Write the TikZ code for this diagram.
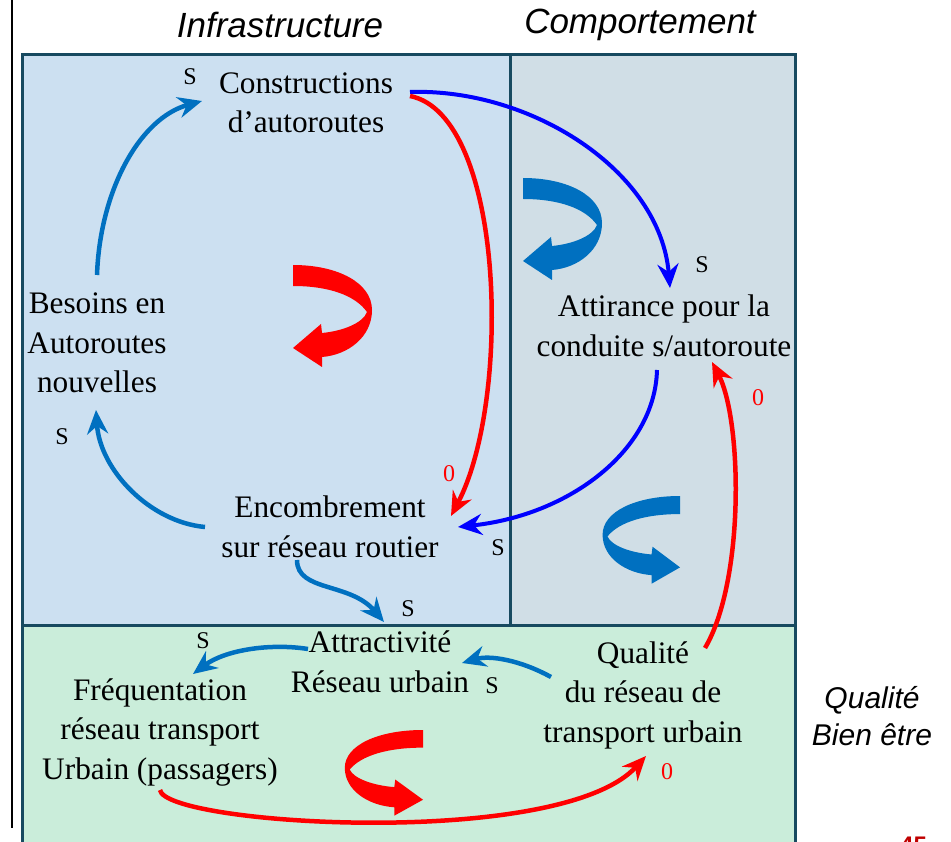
\documentclass[tikz,border=0pt]{standalone}
\usepackage{fontspec}
\setmainfont{Liberation Serif}
\newfontfamily\headfont{Liberation Sans}
\usetikzlibrary{arrows.meta,calc}

\definecolor{infrafill}{HTML}{CCE0F1}
\definecolor{behavfill}{HTML}{D0DEE6}
\definecolor{qualfill}{HTML}{CAEDDA}
\definecolor{framecol}{HTML}{174A60}
\definecolor{midblue}{HTML}{0070C0}
\definecolor{pureblue}{HTML}{0000FF}
\definecolor{loopred}{HTML}{FF0000}
\definecolor{pagered}{HTML}{C00000}

\tikzset{
  var/.style={align=center, inner sep=0pt, font=\fontsize{31.3}{39.5}\selectfont},
  head/.style={inner sep=0pt, font=\headfont\itshape\fontsize{35}{40}\selectfont},
  sidehead/.style={align=center, inner sep=0pt, font=\headfont\itshape\fontsize{30}{37}\selectfont},
  pol/.style={inner sep=0pt, font=\fontsize{24}{24}\selectfont},
  polneg/.style={pol, text=loopred},
  link/.style={line width=4.5pt, -{Stealth[length=24pt,width=21pt,inset=8pt]}},
  posblue/.style={link, midblue},
  strongblue/.style={link, pureblue, line width=4pt},
  negred/.style={link, loopred},
  boxline/.style={framecol, line width=3pt},
  % ribbon-shaped curved arrow showing the sense of a loop
  loopy/.pic={
    \fill (0,0) .. controls (45,0) and (79,18) .. (79,45)
          .. controls (79,72) and (55,90) .. (29,92)
          -- (29,102) -- (0,83) -- (28,59) -- (29,68)
          .. controls (50,66) and (70,58) .. (74,47)
          .. controls (62,30) and (35,21) .. (0,21) -- cycle;
  }
}

\begin{document}
\begin{tikzpicture}[x=1pt, y=-1pt]
\useasboundingbox (0,0) rectangle (951,842);

% zones
\fill[infrafill] (22,55) rectangle (510,625);
\fill[behavfill] (510,55) rectangle (795,625);
\fill[qualfill] (22,625) rectangle (795,860);
\draw[boxline] (22,860) -- (22,55) -- (795,55) -- (795,860);
\draw[boxline] (510,55) -- (510,625);
\draw[boxline] (22,625) -- (795,625);
\draw[line width=2.5pt] (12,0) -- (12,828);

% zone headings
\node[head] (tinfra) at (280,25) {Infrastructure};
\node[head] (tcomp) at (640,25) {Comportement};
\node[sidehead] (tqual) at (872,716) {Qualité\\Bien être};
\node[anchor=north west, inner sep=0pt, text=pagered,
      font=\headfont\bfseries\fontsize{24}{24}\selectfont] (pgnum) at (900,837) {45};

% loop direction symbols
\pic[loopred] at (293,265) {loopy};
\pic[midblue] at (523,178) {loopy};
\pic[midblue, xscale=-0.98, yscale=0.86] at (680,496) {loopy};
\pic[loopred, xscale=-0.99, yscale=0.84] at (423,730) {loopy};

% variables
\node[var] (cons) at (306,103) {Constructions\\d’autoroutes};
\node[var] (besoins) at (97,343) {Besoins en\\Autoroutes\\nouvelles};
\node[var] (attir) at (664,326) {Attirance pour la\\conduite s/autoroute};
\node[var] (encomb) at (330,527) {Encombrement\\sur réseau routier};
\node[var] (attract) at (380,662) {Attractivité\\Réseau urbain};
\node[var] (frequ) at (160,732) {Fréquentation\\réseau transport\\Urbain (passagers)};
\node[var] (qual) at (643,695) {Qualité\\du réseau de\\transport urbain};

% link polarities
\node[pol] (s1) at (190,77) {S};
\node[pol] (s2) at (702,265) {S};
\node[pol] (s3) at (62,437) {S};
\node[polneg] (z1) at (449,474) {0};
\node[pol] (s4) at (498,548) {S};
\node[pol] (s5) at (408,609) {S};
\node[pol] (s6) at (203,641) {S};
\node[pol] (s7) at (492,686) {S};
\node[polneg] (z2) at (758,398) {0};
\node[polneg] (z3) at (667,772) {0};

% causal links
\draw[posblue] ($(besoins)+(0,-68)$) .. controls (100,190) and (140,118) .. ($(cons)+(-104,-2)$);
\draw[posblue] ($(encomb)+(-125,0)$) .. controls (150,522) and (100,470) .. ($(besoins)+(-1,67)$);
\draw[strongblue] ($(cons)+(104,-11)$) .. controls (530,88) and (660,170) .. ($(attir)+(6,-38)$);
\draw[negred] ($(cons)+(104,-7)$) .. controls (505,115) and (512,400) .. ($(encomb)+(121,-11)$);
\draw[strongblue] ($(attir)+(-7,44)$) .. controls (655,450) and (570,515) .. ($(encomb)+(128,0)$);
\draw[negred] ($(qual)+(62,-47)$) .. controls (745,580) and (742,420) .. ($(attir)+(48,36)$);
\draw[posblue] ($(encomb)+(-33,33)$) .. controls (297,592) and (350,582) .. ($(attract)+(4,-40)$);
\draw[posblue] ($(attract)+(-72,-13)$) .. controls (270,643) and (225,650) .. ($(frequ)+(33,-58)$);
\draw[posblue] ($(qual)+(-92,-18)$) .. controls (520,660) and (490,655) .. ($(attract)+(82,1)$);
\draw[negred] ($(frequ)+(0,58)$) .. controls (165,825) and (560,850) .. ($(qual)+(3,61)$);
\end{tikzpicture}
\end{document}
